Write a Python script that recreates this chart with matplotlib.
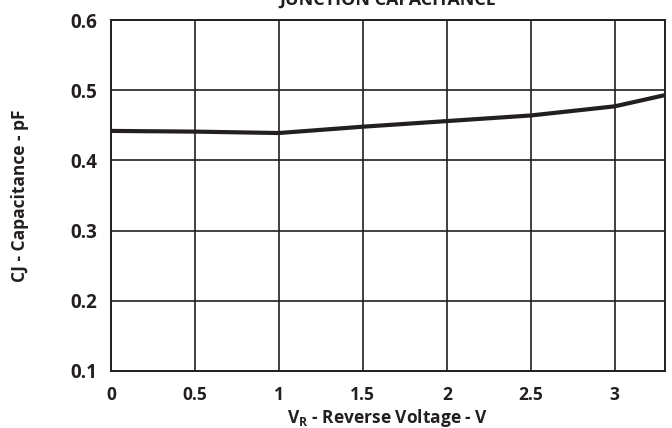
import matplotlib
matplotlib.use("Agg")
import matplotlib.pyplot as plt

plt.rcParams['font.family'] = ['Open Sans', 'DejaVu Sans']
plt.rcParams['mathtext.fontset'] = 'custom'
plt.rcParams['mathtext.rm'] = 'Open Sans'
plt.rcParams['mathtext.bf'] = 'Open Sans:bold'
plt.rcParams['mathtext.it'] = 'Open Sans:italic'

voltage = [0, 0.5, 1.0, 1.5, 2.0, 2.5, 3.0, 3.3]
capacitance = [0.442, 0.441, 0.439, 0.448, 0.456, 0.464, 0.477, 0.493]

x_ticks = [0, 0.5, 1, 1.5, 2, 2.5, 3]
x_tick_labels = ['0', '0.5', '1', '1.5', '2', '2.5', '3']
y_ticks = [0.1, 0.2, 0.3, 0.4, 0.5, 0.6]
y_tick_labels = ['0.1', '0.2', '0.3', '0.4', '0.5', '0.6']

ink = '#231f20'

fig = plt.figure(figsize=(6.72, 4.28), dpi=100)
ax = fig.add_axes([111/672, 1 - 371/428, (665-111)/672, (371-20)/428])

ax.plot(voltage, capacitance, color=ink, lw=3.0, solid_capstyle='butt', zorder=3)

ax.set_xlim(0, 3.3)
ax.set_ylim(0.1, 0.6)
ax.set_xticks(x_ticks)
ax.set_xticklabels(x_tick_labels)
ax.set_yticks(y_ticks)
ax.set_yticklabels(y_tick_labels)
ax.grid(True, color=ink, lw=1.2)
ax.set_axisbelow(True)
for s in ax.spines.values():
    s.set_color(ink)
    s.set_linewidth(1.4)
ax.tick_params(length=0, colors=ink)
ax.tick_params(axis='x', labelsize=12.5, pad=11)
ax.tick_params(axis='y', labelsize=13.5, pad=10)
for lab in ax.get_xticklabels() + ax.get_yticklabels():
    lab.set_fontweight('bold')

ax.set_xlabel(r"$\mathbf{V_R}$ - Reverse Voltage - V", fontsize=12.5, fontweight='bold', color=ink, labelpad=2)
ax.set_ylabel("CJ - Capacitance - pF", fontsize=12.5, fontweight='bold', color=ink, labelpad=0)
ax.yaxis.label.set_va('center')
ax.yaxis.set_label_coords(-(111-20)/(665-111), 0.5)

fig.text((111+665)/2/672, 1 - 5/428, "JUNCTION CAPACITANCE", ha='center', va='baseline',
         fontsize=13, fontweight='bold', color=ink)

fig.savefig("out.png", dpi=100)
